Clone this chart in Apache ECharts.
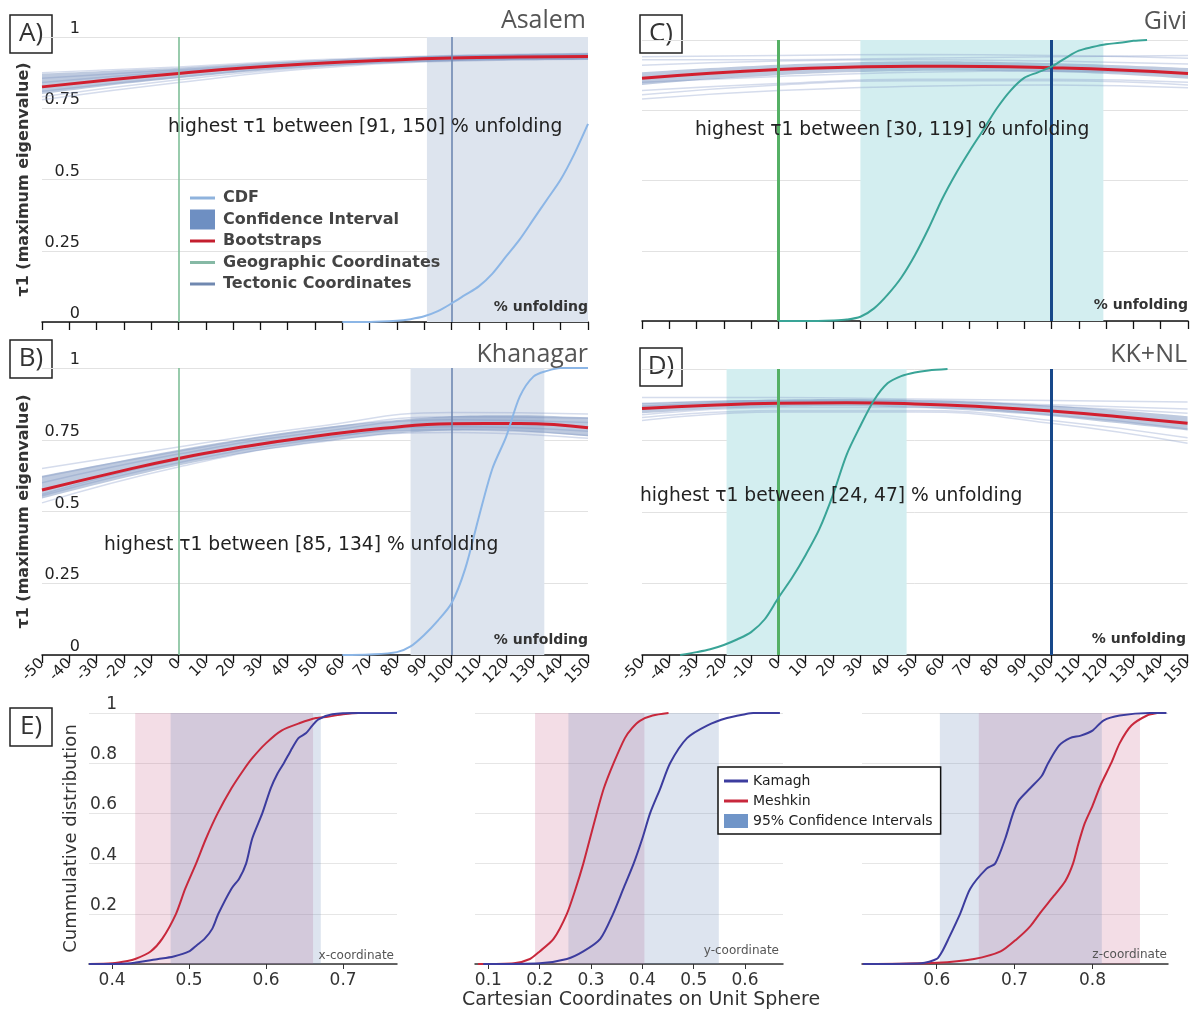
<!DOCTYPE html>
<html><head><meta charset="utf-8">
<script src="https://cdn.jsdelivr.net/npm/echarts@6/dist/echarts.min.js"></script>
<style>html,body{margin:0;padding:0;background:#fff}#c{width:1195px;height:1014px}</style>
</head><body><div id="c"></div>
<script>
// ---------- DATA ----------
const xs9 = [-50, -25, 0, 25, 50, 75, 100, 125, 150];
const xs5 = [-50, 0, 50, 100, 150];

// Panel A (Asalem)
const redA  = [0.825, 0.85, 0.872, 0.892, 0.907, 0.918, 0.926, 0.93, 0.932];
const ciLoA = [0.80, 0.83, 0.855, 0.878, 0.895, 0.907, 0.915, 0.918, 0.92];
const ciHiA = [0.872, 0.882, 0.892, 0.906, 0.918, 0.928, 0.936, 0.94, 0.944];
const bootsA = [
  [0.79, 0.85, 0.895, 0.918, 0.925],
  [0.84, 0.88, 0.91, 0.93, 0.938],
  [0.875, 0.895, 0.92, 0.935, 0.942],
  [0.81, 0.86, 0.9, 0.92, 0.928],
  [0.855, 0.885, 0.915, 0.932, 0.936],
  [0.78, 0.84, 0.89, 0.915, 0.922]
];
const cdfXA = [60, 70, 80, 85, 90, 95, 100, 105, 110, 115, 120, 125, 130, 135, 140, 145, 150];
const cdfYA = [0, 0, 0.004, 0.01, 0.02, 0.038, 0.065, 0.095, 0.125, 0.17, 0.23, 0.29, 0.36, 0.43, 0.5, 0.59, 0.695];
const bandA = [91, 150];

// Panel B (Khanagar)
const redB  = [0.575, 0.632, 0.685, 0.727, 0.762, 0.79, 0.806, 0.807, 0.792];
const ciLoB = [0.545, 0.605, 0.66, 0.705, 0.74, 0.768, 0.782, 0.78, 0.762];
const ciHiB = [0.625, 0.67, 0.715, 0.755, 0.79, 0.815, 0.832, 0.835, 0.828];
const bootsB = [
  [0.53, 0.655, 0.74, 0.775, 0.755],
  [0.60, 0.70, 0.775, 0.82, 0.81],
  [0.65, 0.725, 0.795, 0.845, 0.84],
  [0.555, 0.67, 0.75, 0.795, 0.78],
  [0.62, 0.71, 0.785, 0.83, 0.825],
  [0.56, 0.68, 0.755, 0.785, 0.765]
];
const cdfXB = [60, 70, 80, 85, 90, 95, 100, 105, 110, 115, 120, 125, 130, 135, 140, 150];
const cdfYB = [0, 0.002, 0.01, 0.03, 0.07, 0.12, 0.18, 0.3, 0.48, 0.65, 0.76, 0.9, 0.97, 0.99, 1, 1];
const bandB = [85, 134];

// Panel C (Givi)
const redC  = [0.864, 0.882, 0.895, 0.903, 0.907, 0.906, 0.901, 0.893, 0.881];
const ciLoC = [0.84, 0.86, 0.875, 0.885, 0.89, 0.89, 0.886, 0.877, 0.862];
const ciHiC = [0.885, 0.9, 0.912, 0.92, 0.924, 0.923, 0.918, 0.91, 0.9];
const bootsC = [
  [0.79, 0.82, 0.835, 0.84, 0.83],
  [0.82, 0.845, 0.86, 0.86, 0.85],
  [0.94, 0.945, 0.948, 0.945, 0.935],
  [0.91, 0.925, 0.93, 0.925, 0.915],
  [0.805, 0.84, 0.855, 0.855, 0.84],
  [0.93, 0.93, 0.935, 0.94, 0.945],
  [0.85, 0.87, 0.885, 0.89, 0.88]
];
const cdfXC = [0, 10, 20, 25, 30, 35, 40, 45, 50, 55, 60, 65, 70, 75, 80, 85, 90, 95, 100, 105, 110, 115, 120, 125, 130, 135];
const cdfYC = [0, 0, 0.002, 0.005, 0.015, 0.045, 0.094, 0.155, 0.235, 0.33, 0.435, 0.525, 0.605, 0.68, 0.757, 0.82, 0.865, 0.885, 0.905, 0.935, 0.962, 0.975, 0.985, 0.99, 0.997, 1];
const bandC = [30, 119];

// Panel D (KK+NL)
const redD  = [0.862, 0.873, 0.88, 0.882, 0.878, 0.868, 0.853, 0.833, 0.81];
const ciLoD = [0.845, 0.86, 0.868, 0.87, 0.865, 0.852, 0.835, 0.81, 0.785];
const ciHiD = [0.88, 0.888, 0.893, 0.895, 0.892, 0.885, 0.872, 0.855, 0.835];
const bootsD = [
  [0.9, 0.9, 0.895, 0.89, 0.885],
  [0.83, 0.855, 0.855, 0.82, 0.76],
  [0.87, 0.885, 0.885, 0.87, 0.845],
  [0.84, 0.865, 0.865, 0.84, 0.79],
  [0.88, 0.89, 0.89, 0.875, 0.86],
  [0.82, 0.85, 0.85, 0.81, 0.74]
];
const cdfXD = [-36, -30, -25, -20, -15, -10, -5, 0, 5, 10, 15, 20, 25, 30, 35, 40, 45, 50, 55, 62];
const cdfYD = [0, 0.01, 0.02, 0.035, 0.055, 0.08, 0.125, 0.2, 0.27, 0.35, 0.44, 0.56, 0.7, 0.8, 0.89, 0.95, 0.975, 0.988, 0.995, 1];
const bandD = [-19, 47];

const geoX = 0, tectX = 100;

// Panel E: cumulative distributions (Kamagh = blue, Meshkin = red)
const e1MeshX = [0.37, 0.4, 0.42, 0.43, 0.45, 0.465, 0.483, 0.495, 0.509, 0.522, 0.537, 0.555, 0.57, 0.582, 0.6, 0.62, 0.644, 0.665, 0.68, 0.7, 0.72, 0.77];
const e1MeshY = [0, 0.003, 0.012, 0.02, 0.05, 0.1, 0.2, 0.3, 0.4, 0.5, 0.6, 0.7, 0.77, 0.82, 0.88, 0.93, 0.96, 0.98, 0.985, 0.995, 1, 1];
const e1KamX = [0.37, 0.42, 0.46, 0.48, 0.5, 0.51, 0.52, 0.53, 0.538, 0.555, 0.565, 0.574, 0.582, 0.595, 0.606, 0.615, 0.623, 0.632, 0.642, 0.652, 0.66, 0.668, 0.686, 0.72, 0.77];
const e1KamY = [0, 0.002, 0.02, 0.03, 0.05, 0.075, 0.1, 0.14, 0.2, 0.3, 0.34, 0.4, 0.5, 0.6, 0.7, 0.76, 0.8, 0.85, 0.9, 0.92, 0.95, 0.975, 0.995, 1, 1];
const e2MeshX = [0.08, 0.15, 0.181, 0.2, 0.227, 0.253, 0.27, 0.285, 0.298, 0.311, 0.325, 0.344, 0.366, 0.38, 0.396, 0.42, 0.451];
const e2MeshY = [0, 0.003, 0.02, 0.05, 0.1, 0.2, 0.3, 0.4, 0.5, 0.6, 0.7, 0.8, 0.9, 0.94, 0.97, 0.99, 1];
const e2KamX = [0.09, 0.2, 0.253, 0.285, 0.318, 0.343, 0.363, 0.383, 0.4, 0.415, 0.435, 0.454, 0.487, 0.526, 0.565, 0.6, 0.616, 0.668];
const e2KamY = [0, 0.003, 0.02, 0.05, 0.1, 0.2, 0.3, 0.4, 0.5, 0.6, 0.7, 0.8, 0.9, 0.95, 0.98, 0.995, 1, 1];
const e3KamX = [0.505, 0.58, 0.6, 0.607, 0.615, 0.63, 0.643, 0.664, 0.675, 0.688, 0.698, 0.705, 0.72, 0.735, 0.743, 0.757, 0.771, 0.785, 0.8, 0.814, 0.835, 0.874, 0.895];
const e3KamY = [0, 0.003, 0.02, 0.05, 0.1, 0.2, 0.3, 0.38, 0.4, 0.5, 0.6, 0.65, 0.7, 0.75, 0.8, 0.87, 0.9, 0.91, 0.93, 0.97, 0.99, 1, 1];
const e3MeshX = [0.505, 0.6, 0.648, 0.682, 0.703, 0.72, 0.732, 0.75, 0.765, 0.775, 0.782, 0.79, 0.8, 0.81, 0.824, 0.835, 0.85, 0.87, 0.883];
const e3MeshY = [0, 0.005, 0.02, 0.05, 0.1, 0.15, 0.2, 0.27, 0.33, 0.4, 0.48, 0.56, 0.63, 0.71, 0.8, 0.88, 0.95, 0.99, 1];

const e1CI = { mesh: [0.43, 0.661], kam: [0.476, 0.671] };
const e2CI = { mesh: [0.191, 0.404], kam: [0.256, 0.549] };
const e3CI = { mesh: [0.654, 0.861], kam: [0.604, 0.812] };

const e1Range = [0.37, 0.77], e2Range = [0.074, 0.674], e3Range = [0.504, 0.897];
const e1Ticks = [0.4, 0.5, 0.6, 0.7];
const e2Ticks = [0.1, 0.2, 0.3, 0.4, 0.5, 0.6];
const e3Ticks = [0.6, 0.7, 0.8];

// ---------- BUILD ----------
const pairs = (xs, ys) => xs.map((x, i) => [x, ys[i]]);
const FONT = '"DejaVu Sans", Verdana, sans-serif';

const topPanels = [
  { red: redA, lo: ciLoA, hi: ciHiA, boots: bootsA, cx: cdfXA, cy: cdfYA, band: bandA, thick: false },
  { red: redB, lo: ciLoB, hi: ciHiB, boots: bootsB, cx: cdfXB, cy: cdfYB, band: bandB, thick: false },
  { red: redC, lo: ciLoC, hi: ciHiC, boots: bootsC, cx: cdfXC, cy: cdfYC, band: bandC, thick: true },
  { red: redD, lo: ciLoD, hi: ciHiD, boots: bootsD, cx: cdfXD, cy: cdfYD, band: bandD, thick: true }
];

const grid = [
  { left: 42, top: 37, width: 546, height: 285 },
  { left: 42, top: 368, width: 546, height: 287 },
  { left: 642, top: 40, width: 546, height: 281 },
  { left: 642, top: 369, width: 546, height: 286 },
  { left: 89, top: 713, width: 308, height: 251 },
  { left: 475, top: 713, width: 308, height: 251 },
  { left: 862, top: 713, width: 306, height: 251 }
];

const xAxis = [], yAxis = [], series = [];
const yName = 'τ1 (maximum eigenvalue)';

topPanels.forEach((p, i) => {
  const showX = (i === 1 || i === 3);
  const showY = (i === 0 || i === 1);
  xAxis.push({
    gridIndex: i, type: 'value', min: -50, max: 150, interval: 10,
    axisLine: { show: true, onZero: false, lineStyle: { color: '#111', width: 1.5 } },
    axisTick: { show: true, length: 8, lineStyle: { color: '#111', width: 1.3 } },
    axisLabel: { show: showX, rotate: 45, fontSize: 15, color: '#222', fontFamily: FONT, margin: 6 },
    splitLine: { show: false }
  });
  yAxis.push({
    gridIndex: i, type: 'value', min: 0, max: 1, interval: 0.25,
    name: showY ? yName : '', nameLocation: 'middle', nameGap: 10,
    nameTextStyle: { fontSize: 16, color: '#333', fontWeight: 'bold', fontFamily: FONT },
    axisLine: { show: false }, axisTick: { show: false },
    axisLabel: { show: showY, inside: true, align: 'right', margin: 38, verticalAlign: 'bottom', fontSize: 16, color: '#222', fontFamily: FONT },
    splitLine: { show: true, lineStyle: { color: '#e2e2e2', width: 1 } }
  });
  const bandColor = p.thick ? '#d3eef0' : '#dde4ee';
  series.push({
    type: 'line', name: 'band' + i, xAxisIndex: i, yAxisIndex: i, data: [], silent: true, z: 1,
    markArea: { silent: true, itemStyle: { color: bandColor }, data: [[{ xAxis: p.band[0] }, { xAxis: p.band[1] }]] }
  });
  p.boots.forEach((b, k) => {
    series.push({
      type: 'line', name: 'boot' + i + '_' + k, xAxisIndex: i, yAxisIndex: i, data: pairs(xs5, b),
      smooth: true, symbol: 'none', silent: true, z: 2,
      lineStyle: { width: 1.5, color: 'rgba(135,155,200,0.35)' }
    });
  });
  // confidence band drawn as a polygon through the axis scales (corner points doubled to keep ends square)
  series.push({
    type: 'custom', name: 'Confidence Interval', xAxisIndex: i, yAxisIndex: i, silent: true, z: 3,
    itemStyle: { color: '#6e8fc2' },
    data: xs9.map((x, k) => [x, p.lo[k], p.hi[k]]),
    encode: { x: 0, y: [1, 2] },
    renderItem: function (params, api) {
      if (params.dataIndex !== 0) return;
      const up = xs9.map((x, k) => api.coord([x, p.hi[k]]));
      const dn = xs9.map((x, k) => api.coord([x, p.lo[k]])).reverse();
      const pts = [up[0]].concat(up, [up[up.length - 1]], [dn[0]], dn, [dn[dn.length - 1]]);
      return { type: 'polygon', shape: { points: pts, smooth: 0.3 },
        style: { fill: 'rgba(110,138,185,0.45)' } };
    }
  });
  series.push({
    type: 'line', name: 'Bootstraps', xAxisIndex: i, yAxisIndex: i, data: pairs(xs9, p.red),
    smooth: true, symbol: 'none', silent: true, z: 4,
    lineStyle: { width: 3, color: '#d21f2f' }, itemStyle: { color: '#d21f2f' }
  });
  series.push({
    type: 'line', name: 'Geographic Coordinates', xAxisIndex: i, yAxisIndex: i, data: [], z: 5,
    itemStyle: { color: '#7fb89c' },
    markLine: { silent: true, symbol: 'none', label: { show: false },
      lineStyle: { type: 'solid', color: p.thick ? '#55b065' : '#7fbf98', width: p.thick ? 3 : 1.6 },
      data: [{ xAxis: geoX }] }
  });
  series.push({
    type: 'line', name: 'Tectonic Coordinates', xAxisIndex: i, yAxisIndex: i, data: [], z: 5,
    itemStyle: { color: '#6a82ad' },
    markLine: { silent: true, symbol: 'none', label: { show: false },
      lineStyle: { type: 'solid', color: p.thick ? '#17488a' : '#6f88b2', width: p.thick ? 3 : 1.6 },
      data: [{ xAxis: tectX }] }
  });
  series.push({
    type: 'line', name: 'CDF', xAxisIndex: i, yAxisIndex: i, data: pairs(p.cx, p.cy),
    smooth: 0.3, symbol: 'none', silent: true, z: 6,
    lineStyle: { width: 2, color: p.thick ? '#39a497' : '#8cb6e6' }, itemStyle: { color: '#8cb6e6' }
  });
});

const ePanels = [
  { range: e1Range, ticks: e1Ticks, kx: e1KamX, ky: e1KamY, mx: e1MeshX, my: e1MeshY, ci: e1CI },
  { range: e2Range, ticks: e2Ticks, kx: e2KamX, ky: e2KamY, mx: e2MeshX, my: e2MeshY, ci: e2CI },
  { range: e3Range, ticks: e3Ticks, kx: e3KamX, ky: e3KamY, mx: e3MeshX, my: e3MeshY, ci: e3CI }
];
const KAM = '#3c3c9e', MESH = '#c8283c';
ePanels.forEach((p, j) => {
  const gi = 4 + j;
  xAxis.push({
    gridIndex: gi, type: 'value', min: p.range[0], max: p.range[1],
    axisLine: { show: true, onZero: false, lineStyle: { color: '#333', width: 1.5 } },
    axisTick: { show: true, length: 5, customValues: p.ticks, lineStyle: { color: '#333' } },
    axisLabel: { show: true, customValues: p.ticks, fontSize: 17, color: '#333', fontFamily: FONT, margin: 8,
      formatter: v => (+v).toFixed(1) },
    splitLine: { show: false }
  });
  yAxis.push({
    gridIndex: gi, type: 'value', min: 0, max: 1, interval: 0.2,
    name: j === 0 ? 'Cummulative distribution' : '', nameLocation: 'middle', nameGap: 9,
    nameTextStyle: { fontSize: 18, color: '#333', fontFamily: FONT },
    axisLine: { show: false }, axisTick: { show: false },
    axisLabel: { show: j === 0, inside: true, align: 'right', margin: 28, verticalAlign: 'bottom', fontSize: 17, color: '#333', fontFamily: FONT,
      formatter: v => (v === 0 ? '' : String(+v.toFixed(1))) },
    splitLine: { show: true, lineStyle: { color: '#e6e6e6', width: 1 } }
  });
  series.push({
    type: 'line', name: '95% Confidence Intervals', xAxisIndex: gi, yAxisIndex: gi, data: [], silent: true, z: 1,
    itemStyle: { color: '#7095c8' },
    markArea: { silent: true, data: [
      [{ xAxis: p.ci.mesh[0], itemStyle: { color: 'rgba(200,100,140,0.22)' } }, { xAxis: p.ci.mesh[1] }],
      [{ xAxis: p.ci.kam[0], itemStyle: { color: 'rgba(100,130,180,0.22)' } }, { xAxis: p.ci.kam[1] }]
    ] }
  });
  series.push({
    type: 'line', name: 'Meshkin', xAxisIndex: gi, yAxisIndex: gi, data: pairs(p.mx, p.my),
    smooth: 0.25, symbol: 'none', silent: true, z: 3, lineStyle: { width: 2, color: MESH }, itemStyle: { color: MESH }
  });
  series.push({
    type: 'line', name: 'Kamagh', xAxisIndex: gi, yAxisIndex: gi, data: pairs(p.kx, p.ky),
    smooth: 0.25, symbol: 'none', silent: true, z: 3, lineStyle: { width: 2, color: KAM }, itemStyle: { color: KAM }
  });
});

// ---------- TEXT / DECORATION ----------
const g = [];
function boxLabel(x, y, t) {
  g.push({ type: 'rect', shape: { x: x, y: y, width: 42, height: 38 }, style: { fill: 'none', stroke: '#222', lineWidth: 1.5 } });
  g.push({ type: 'text', x: x + 21, y: y + 19, style: { text: t, font: '26px "Open Sans", sans-serif', fill: '#333', align: 'center', verticalAlign: 'middle' } });
}
boxLabel(10, 15, 'A)'); boxLabel(10, 340, 'B)'); boxLabel(640, 15, 'C)'); boxLabel(640, 348, 'D)'); boxLabel(10, 708, 'E)');
function txt(x, y, t, font, fill, align) {
  g.push({ type: 'text', x: x, y: y, z: 50, style: { text: t, font: font, fill: fill, align: align, verticalAlign: 'middle' } });
}
const TF = '25px "Open Sans", sans-serif';
txt(586, 21, 'Asalem', TF, '#555', 'right');
txt(1187, 22, 'Givi', TF, '#555', 'right');
txt(588, 355, 'Khanagar', TF, '#555', 'right');
txt(1187, 355, 'KK+NL', TF, '#555', 'right');
const UF = 'bold 14px ' + FONT;
txt(588, 307, '% unfolding', UF, '#333', 'right');
txt(1188, 305, '% unfolding', UF, '#333', 'right');
txt(588, 640, '% unfolding', UF, '#333', 'right');
txt(1186, 639, '% unfolding', UF, '#333', 'right');
const HF = '18.7px ' + FONT;
txt(168, 127, 'highest τ1 between [91, 150] % unfolding', HF, '#222', 'left');
txt(695, 130, 'highest τ1 between [30, 119] % unfolding', HF, '#222', 'left');
txt(104, 545, 'highest τ1 between [85, 134] % unfolding', HF, '#222', 'left');
txt(640, 496, 'highest τ1 between [24, 47] % unfolding', HF, '#222', 'left');
const CF = '12px ' + FONT;
txt(394, 956, 'x-coordinate', CF, '#555', 'right');
txt(779, 951, 'y-coordinate', CF, '#555', 'right');
txt(1167, 955, 'z-coordinate', CF, '#555', 'right');
txt(641, 1000, 'Cartesian Coordinates on Unit Sphere', '19px ' + FONT, '#333', 'center');

const lineIcon = 'path://M0,0H25V3H0Z';
const option = {
  animation: false,
  backgroundColor: '#fff',
  grid: grid, xAxis: xAxis, yAxis: yAxis, series: series,
  legend: [
    {
      orient: 'vertical', left: 185, top: 183, itemWidth: 25, itemHeight: 20, itemGap: 1.5,
      selectedMode: false, symbolKeepAspect: true,
      textStyle: { fontSize: 16, fontWeight: 'bold', color: '#444', fontFamily: FONT, padding: [0, 0, 0, 3], lineHeight: 20 },
      data: [
        { name: 'CDF', icon: lineIcon, itemStyle: { color: '#8fb3dd', borderWidth: 0 } },
        { name: 'Confidence Interval', icon: 'rect', itemStyle: { color: '#6e8fc2', borderWidth: 0 } },
        { name: 'Bootstraps', icon: lineIcon, itemStyle: { color: '#c41e2e', borderWidth: 0 } },
        { name: 'Geographic Coordinates', icon: lineIcon, itemStyle: { color: '#86b9a5', borderWidth: 0 } },
        { name: 'Tectonic Coordinates', icon: lineIcon, itemStyle: { color: '#7088b0', borderWidth: 0 } }
      ]
    },
    {
      orient: 'vertical', left: 718, top: 767, itemWidth: 24, itemHeight: 14, itemGap: 6,
      selectedMode: false, symbolKeepAspect: true,
      backgroundColor: '#fff', borderColor: '#111', borderWidth: 1.5, padding: [7, 8, 6, 6],
      textStyle: { fontSize: 14, color: '#222', fontFamily: FONT },
      data: [
        { name: 'Kamagh', icon: 'path://M0,0H24V3H0Z', itemStyle: { color: KAM, borderWidth: 0 } },
        { name: 'Meshkin', icon: 'path://M0,0H24V3H0Z', itemStyle: { color: MESH, borderWidth: 0 } },
        { name: '95% Confidence Intervals', icon: 'rect', itemStyle: { color: '#7095c8', borderWidth: 0 } }
      ]
    }
  ],
  graphic: g
};
const chart = echarts.init(document.getElementById('c'), null, { renderer: 'canvas' });
chart.setOption(option);
</script></body></html>
